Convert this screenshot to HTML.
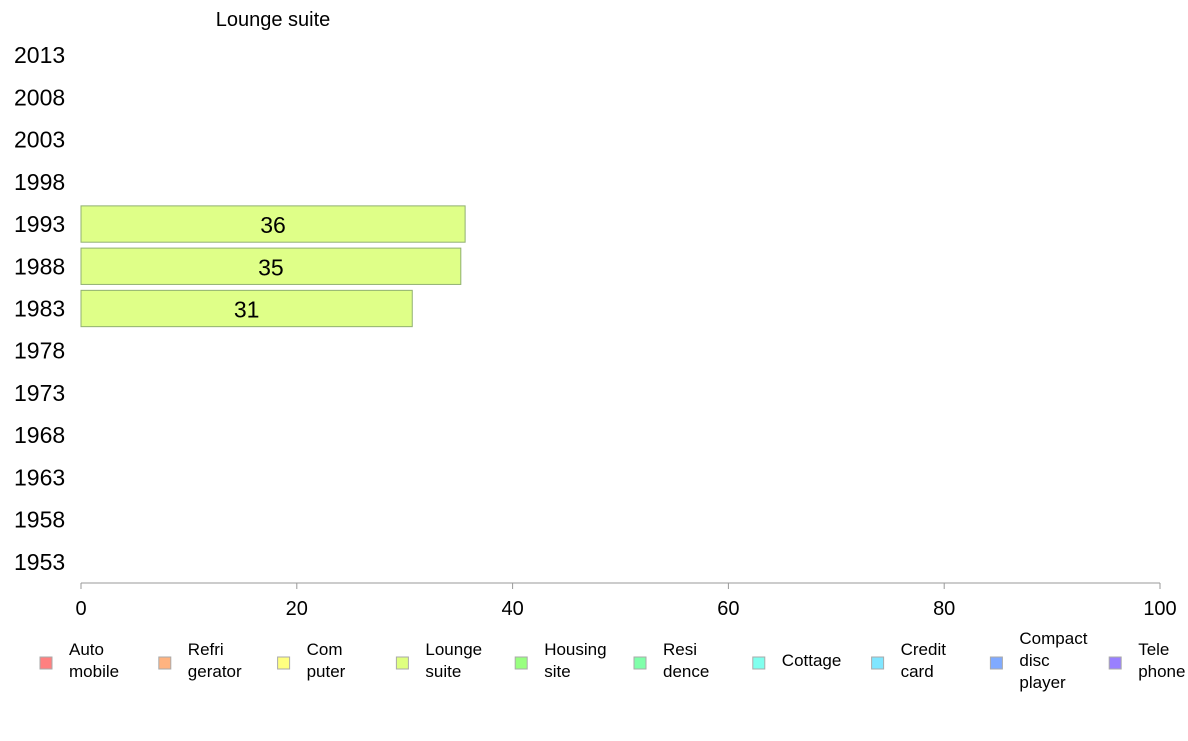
<!DOCTYPE html>
<html><head><meta charset="utf-8"><style>
body{margin:0;background:#fff;font-family:"Liberation Sans",Arial,sans-serif;}
svg text{font-family:"Liberation Sans",Arial,sans-serif;}
</style></head><body>
<svg id="chart" width="1188" height="736" xmlns="http://www.w3.org/2000/svg">
<text x="273" y="26" font-size="20" text-anchor="middle">Lounge suite</text>
<g id="yaxis"></g>
<g id="bars"></g>
<g id="xaxis"></g>
<g id="legend"></g>
</svg>
<script>
const categories = ["2013","2008","2003","1998","1993","1988","1983","1978","1973","1968","1963","1958","1953"];
const values = [null,null,null,null,35.6,35.2,30.7,null,null,null,null,null,null];
const valueLabels = ["","","","","36","35","31","","","","","",""];
const xTicks = [0,20,40,60,80,100];
const legendLabels = [["Auto","mobile"],["Refri","gerator"],["Com","puter"],["Lounge","suite"],["Housing","site"],["Resi","dence"],["Cottage"],["Credit","card"],["Compact","disc","player"],["Tele","phone"]];
const legendColors = ["#ff8080","#ffb380","#ffff80","#dfff80","#99ff80","#80ffaa","#80ffee","#80e6ff","#80aaff","#9980ff"];

const NS="http://www.w3.org/2000/svg";
const X0=81,X1=1160,YT=34,YB=583;
const x=v=>X0+(v-0)/(100-0)*(X1-X0);
const band=(YB-YT)/categories.length;
const yc=i=>YT+band*(i+0.5);
function mk(tag,attrs,parent){const e=document.createElementNS(NS,tag);for(const k in attrs)e.setAttribute(k,attrs[k]);parent.appendChild(e);return e;}
const ya=document.getElementById('yaxis'),bg=document.getElementById('bars'),xa=document.getElementById('xaxis'),lg=document.getElementById('legend');
categories.forEach((c,i)=>{
  const t=mk('text',{x:14,y:yc(i)+8,'font-size':23},ya);t.textContent=c;
  
  
  if(values[i]!=null){
    const h=band*0.86;
    const r=mk('rect',{x:x(0),y:yc(i)-h/2,width:x(values[i])-x(0),height:h,fill:'#dfff88',stroke:'#90b070','stroke-width':1},bg);
    
    
    const l=mk('text',{x:(x(0)+x(values[i]))/2,y:yc(i)+9,'font-size':23,'text-anchor':'middle'},bg);l.textContent=valueLabels[i];
    
    
  }
});
mk('line',{x1:X0,x2:X1,y1:YB,y2:YB,stroke:'#999','stroke-width':1},xa);
xTicks.forEach(v=>{
  mk('line',{x1:x(v),x2:x(v),y1:YB,y2:YB+6,stroke:'#999'},xa);
  const t=mk('text',{x:x(v),y:YB+32,'font-size':20,'text-anchor':'middle'},xa);t.textContent=v;
  
  
});
legendLabels.forEach((lab,i)=>{
  const lx=40+i*118.8;
  const g=mk('g',{},lg);
  
  
  mk('rect',{x:lx,y:657,width:12,height:12,fill:legendColors[i],stroke:'#aaa'},g);
  const n=lab.length, y0=670-(n-1)*11;
  lab.forEach((s,j)=>{const t=mk('text',{x:lx+29,y:y0+j*22-4,'font-size':17},g);t.textContent=s;});
});
</script>
</body></html>
